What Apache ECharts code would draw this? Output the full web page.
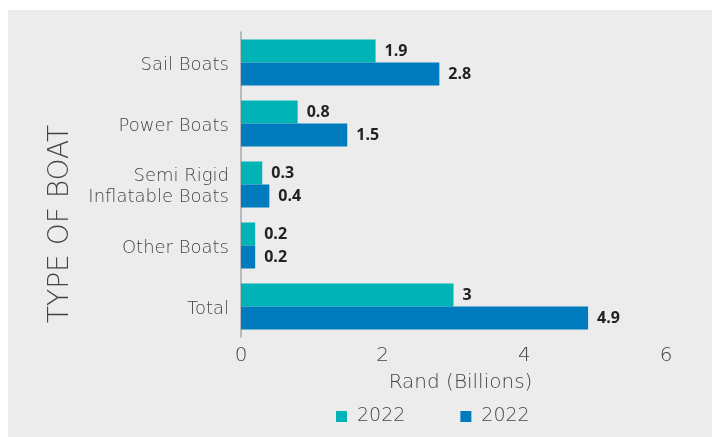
<!DOCTYPE html>
<html><head><meta charset="utf-8">
<script src="https://cdn.jsdelivr.net/npm/echarts@6/dist/echarts.min.js"></script>
<style>html,body{margin:0;padding:0;background:#fff}#c{width:718px;height:437px}</style>
</head><body><div id="c"></div>
<script>
var categories = ['Sail Boats', 'Power Boats', 'Semi Rigid\nInflatable Boats', 'Other Boats', 'Total'];
var seriesA = [1.9, 0.8, 0.3, 0.2, 3];
var seriesB = [2.8, 1.5, 0.4, 0.2, 4.9];
var legendLabels = ['2022', '2022'];
var xTicks = [0, 2, 4, 6];
var FONT = '"Open Sans", "Noto Sans", sans-serif';
var THIN = '"DejaVu Sans", "Open Sans", sans-serif';
var chart = echarts.init(document.getElementById('c'), null, {renderer: 'canvas'});
var labelStyle = {show: true, position: 'right', distance: 9, color: '#222', fontWeight: 'bold', fontSize: 16, fontFamily: FONT};
chart.setOption({
  backgroundColor: '#ffffff',
  animation: false,
  graphic: [
    {type: 'rect', z: -10, shape: {x: 8, y: 10, width: 704, height: 427}, style: {fill: '#ebeceb'}},
    {type: 'text', rotation: Math.PI / 2, x: 47, y: 323, style: {text: 'TYPE OF BOAT', fill: '#444', font: '200 28px ' + THIN}}
  ],
  grid: {left: 241, right: 52, top: 32, bottom: 100, containLabel: false},
  legend: {
    left: 331, top: 402, itemWidth: 11, itemHeight: 11, itemGap: 55, icon: 'rect',
    textStyle: {color: '#444', fontSize: 19, fontFamily: THIN, fontWeight: 200, padding: [0, 0, 0, 5]},
    formatter: function (n) { return n === 'A' ? legendLabels[0] : legendLabels[1]; },
    data: ['A', 'B']
  },
  xAxis: {
    type: 'value', min: xTicks[0], max: xTicks[xTicks.length - 1], interval: 2,
    name: 'Rand (Billions)', nameLocation: 'middle', nameGap: 36,
    nameTextStyle: {color: '#444', fontSize: 20, fontFamily: THIN, fontWeight: 200, padding: [0, 0, 0, 14]},
    axisLine: {show: false}, axisTick: {show: false}, splitLine: {show: false},
    axisLabel: {color: '#444', fontSize: 20, fontFamily: THIN, fontWeight: 200, margin: 9}
  },
  yAxis: {
    type: 'category', inverse: true, data: categories,
    axisLine: {show: true, lineStyle: {color: '#aaaaaa', width: 1.5}},
    axisTick: {show: false},
    axisLabel: {
      margin: 12, align: 'right',
      formatter: function (v) { return v.split('\n').map(function (s) { return '{a|' + s + '}'; }).join('\n'); },
      rich: {a: {color: '#444', fontSize: 18, fontFamily: THIN, fontWeight: 200, lineHeight: 21, padding: [5, 0, 0, 0]}}
    }
  },
  series: [
    {name: 'A', type: 'bar', data: seriesA, barWidth: 23, barGap: '0%', itemStyle: {color: '#00b3b5'}, label: labelStyle},
    {name: 'B', type: 'bar', data: seriesB, barWidth: 23, itemStyle: {color: '#007bbd'}, label: labelStyle}
  ]
});
</script></body></html>
